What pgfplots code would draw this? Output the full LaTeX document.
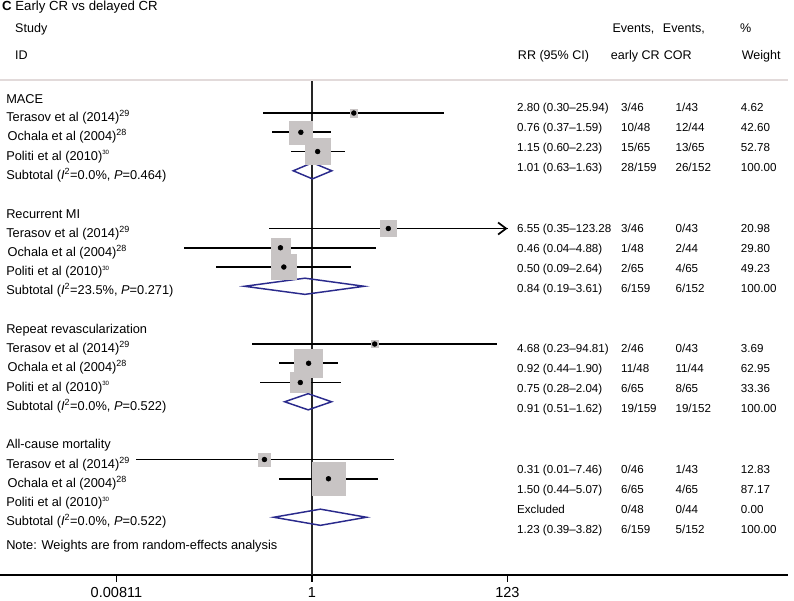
\documentclass[border=0pt]{standalone}
\usepackage{fontspec}
\setmainfont{Liberation Sans}
\usepackage{pgfplots}
\pgfplotsset{compat=1.18}
\usepackage{pgfplotstable}
\usetikzlibrary{arrows.meta}

\definecolor{boxgray}{RGB}{200,196,196}
\definecolor{dianavy}{RGB}{42,42,140}
\definecolor{rulegray}{RGB}{226,218,218}

% fonts: left labels, headers, right-hand data columns
\newcommand{\lf}{\fontsize{9.6}{11}\selectfont}
\newcommand{\hf}{\fontsize{9.4}{11}\selectfont}
\newcommand{\df}{\fontsize{8.7}{10}\selectfont}
\newcommand{\supA}[1]{\textsuperscript{#1}}
\newcommand{\supB}[1]{\raisebox{0.8ex}{\fontsize{4.6}{5}\selectfont #1}}
% text node: font, relative x, y (row units), text
\newcommand{\T}[4]{\node[anchor=mid west,inner sep=0pt,font=#1] at ({rel axis cs:#2,0}|-{axis cs:1,#3}) {#4};}
% right-hand columns of one row
\newcommand{\RC}[5]{\T{\df}{0.656}{#1}{#2}\T{\df}{0.788}{#1}{#3}\T{\df}{0.857}{#1}{#4}\T{\df}{0.940}{#1}{#5}}

% row  RR  lower  upper  weight
\pgfplotstableread{
row rr   lo    hi     w
-1  2.80 0.30  25.94  4.62
-2  0.76 0.37  1.59   42.60
-3  1.15 0.60  2.23   52.78
-7  6.55 0.35  123.28 20.98
-8  0.46 0.043 4.88   29.80
-9  0.50 0.095 2.64   49.23
-13 4.68 0.23  94.81  3.69
-14 0.92 0.44  1.90   62.95
-15 0.75 0.28  2.04   33.36
-19 0.31 0.013 7.46   12.83
-20 1.50 0.44  5.07   87.17
}\studies

\begin{document}
\begin{tikzpicture}
\useasboundingbox (0,-19pt) rectangle (595.5pt,431.25pt);
\begin{axis}[
    scale only axis,
    width=591pt, height=431.25pt,
    xmode=log,
    xmin=4.61e-4, xmax=1.23e5,
    ymin=-25, ymax=4.873,
    axis x line=bottom, axis y line=none,
    x axis line style={-, line width=1pt},
    xtick={0.00811,1,123},
    xticklabels={0.00811,1,123},
    xminorticks=false,
    tick align=outside,
    major tick length=5pt,
    every tick/.style={black, line width=0.9pt},
    tick label style={font=\fontsize{10.9}{12}\selectfont},
    xticklabel style={yshift=-0.6pt},
    clip=false
]

% null line and header rule
\addplot[black!85, line width=1pt] coordinates {(1,0.715) (1,-25)};
\addplot[rulegray, line width=0.8pt] coordinates {(4.61e-4,0.715) (1.23e5,0.715)};

% weight boxes
\addplot[scatter, only marks, mark=square*,
    scatter/use mapped color={draw=boxgray, fill=boxgray},
    visualization depends on={1.32*sqrt(\thisrow{w}) \as \msz},
    scatter/@pre marker code/.append style={/tikz/mark size=\msz}]
    table[x=rr, y=row] {\studies};

% confidence intervals and point estimates
\addplot[only marks, mark=*, mark size=1.8pt, black,
    error bars/.cd, x dir=both, x explicit, error mark=none,
    error bar style={line width=1.2pt, black}]
    table[x=rr, y=row,
          x error plus expr=\thisrow{hi}-\thisrow{rr},
          x error minus expr=\thisrow{rr}-\thisrow{lo}] {\studies};

% truncated CI
\addplot[line width=1.2pt, -{Straight Barb[length=6pt, width=9pt, line width=1.3pt]}] coordinates {(60,-7) (123.28,-7)};

% subtotal diamonds
\addplot[dianavy, line width=1.1pt] coordinates {(0.63,-4) (1.01,-3.58) (1.63,-4) (1.01,-4.42)} -- cycle;
\addplot[dianavy, line width=1.1pt] coordinates {(0.19,-10) (0.84,-9.58) (3.61,-10) (0.84,-10.42)} -- cycle;
\addplot[dianavy, line width=1.1pt] coordinates {(0.51,-16) (0.91,-15.58) (1.62,-16) (0.91,-16.42)} -- cycle;
\addplot[dianavy, line width=1.1pt] coordinates {(0.39,-22) (1.23,-21.58) (3.82,-22) (1.23,-22.42)} -- cycle;

% headings
\T{\fontsize{9.9}{11}\selectfont}{0.0025}{4.51}{\textbf{C} Early CR vs delayed CR}
\T{\hf}{0.019}{3.37}{Study}
\T{\hf}{0.019}{1.96}{ID}
\T{\hf}{0.777}{3.37}{Events,}
\T{\hf}{0.841}{3.37}{Events,}
\T{\hf}{0.939}{3.37}{\%}
\T{\hf}{0.657}{1.96}{RR (95\% CI)}
\T{\hf}{0.775}{1.96}{early CR}
\T{\hf}{0.842}{1.96}{COR}
\T{\hf}{0.941}{1.96}{Weight}

% MACE
\T{\lf}{0.0076}{-0.32}{MACE}
\T{\lf}{0.0076}{-1.26}{Terasov et al (2014)\supA{29}}
\T{\lf}{0.0093}{-2.26}{Ochala et al (2004)\supA{28}}
\T{\lf}{0.0076}{-3.26}{Politi et al (2010)\supB{30}}
\T{\lf}{0.0076}{-4.26}{Subtotal (\textit{I}\supA{2}=0.0\%, \textit{P}=0.464)}
\RC{-0.74}{2.80 (0.30--25.94)}{3/46}{1/43}{4.62}
\RC{-1.78}{0.76 (0.37--1.59)}{10/48}{12/44}{42.60}
\RC{-2.83}{1.15 (0.60--2.23)}{15/65}{13/65}{52.78}
\RC{-3.87}{1.01 (0.63--1.63)}{28/159}{26/152}{100.00}

% Recurrent MI
\T{\lf}{0.0076}{-6.30}{Recurrent MI}
\T{\lf}{0.0076}{-7.26}{Terasov et al (2014)\supA{29}}
\T{\lf}{0.0093}{-8.26}{Ochala et al (2004)\supA{28}}
\T{\lf}{0.0076}{-9.26}{Politi et al (2010)\supB{30}}
\T{\lf}{0.0076}{-10.26}{Subtotal (\textit{I}\supA{2}=23.5\%, \textit{P}=0.271)}
\RC{-7.00}{6.55 (0.35--123.28}{3/46}{0/43}{20.98}
\RC{-8.05}{0.46 (0.04--4.88)}{1/48}{2/44}{29.80}
\RC{-9.09}{0.50 (0.09--2.64)}{2/65}{4/65}{49.23}
\RC{-10.13}{0.84 (0.19--3.61)}{6/159}{6/152}{100.00}

% Repeat revascularization
\T{\lf}{0.0076}{-12.28}{Repeat revascularization}
\T{\lf}{0.0076}{-13.26}{Terasov et al (2014)\supA{29}}
\T{\lf}{0.0093}{-14.26}{Ochala et al (2004)\supA{28}}
\T{\lf}{0.0076}{-15.26}{Politi et al (2010)\supB{30}}
\T{\lf}{0.0076}{-16.26}{Subtotal (\textit{I}\supA{2}=0.0\%, \textit{P}=0.522)}
\RC{-13.26}{4.68 (0.23--94.81)}{2/46}{0/43}{3.69}
\RC{-14.31}{0.92 (0.44--1.90)}{11/48}{11/44}{62.95}
\RC{-15.35}{0.75 (0.28--2.04)}{6/65}{8/65}{33.36}
\RC{-16.40}{0.91 (0.51--1.62)}{19/159}{19/152}{100.00}

% All-cause mortality
\T{\lf}{0.0076}{-18.26}{All-cause mortality}
\T{\lf}{0.0076}{-19.26}{Terasov et al (2014)\supA{29}}
\T{\lf}{0.0093}{-20.26}{Ochala et al (2004)\supA{28}}
\T{\lf}{0.0076}{-21.26}{Politi et al (2010)\supB{30}}
\T{\lf}{0.0076}{-22.26}{Subtotal (\textit{I}\supA{2}=0.0\%, \textit{P}=0.522)}
\RC{-19.53}{0.31 (0.01--7.46)}{0/46}{1/43}{12.83}
\RC{-20.57}{1.50 (0.44--5.07)}{6/65}{4/65}{87.17}
\RC{-21.61}{Excluded}{0/48}{0/44}{0.00}
\RC{-22.66}{1.23 (0.39--3.82)}{6/159}{5/152}{100.00}

\T{\lf}{0.0076}{-23.5}{Note: Weights are from random-effects analysis}
\end{axis}
\end{tikzpicture}
\end{document}
